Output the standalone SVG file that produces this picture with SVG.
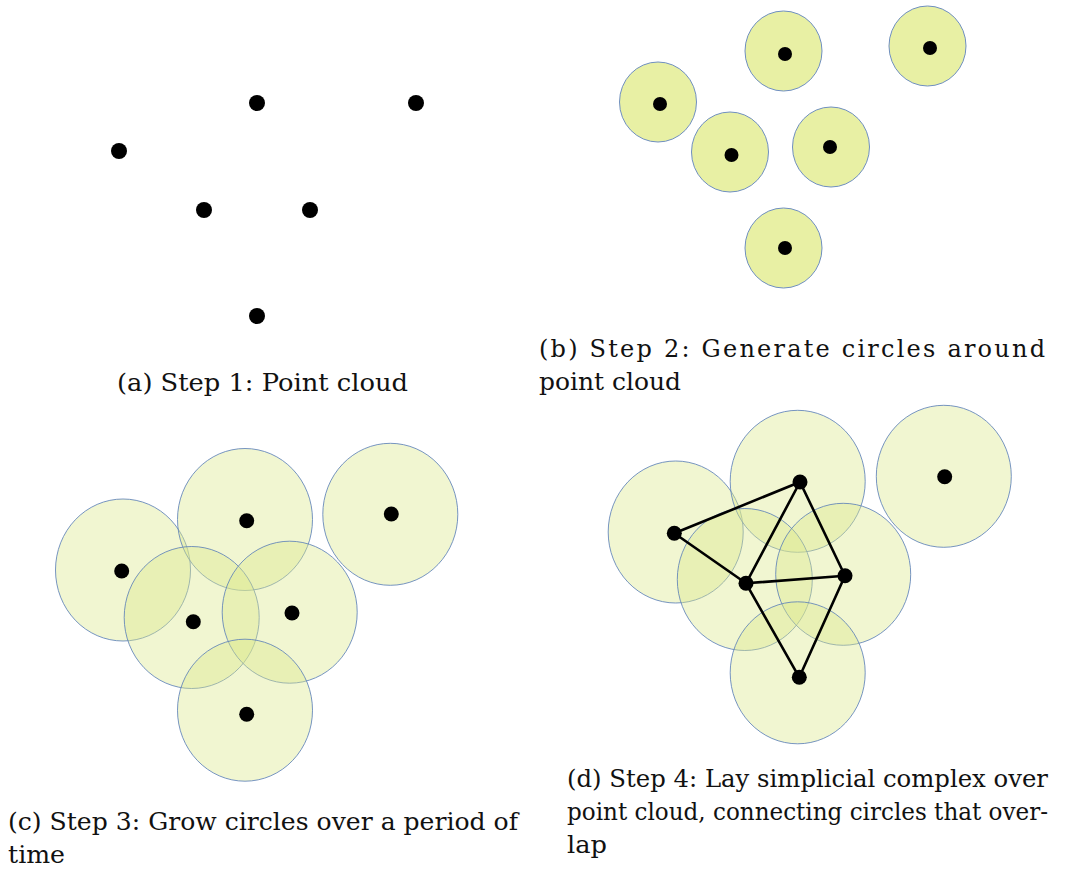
<svg xmlns="http://www.w3.org/2000/svg" width="1081" height="872" viewBox="0 0 1081 872">
<style>
.bg{fill:#ffffff}
.dot{fill:#000000}
.cb{fill:#e8f0a4;stroke:#6f8fc0;stroke-width:1}
.cc{fill:#dce98c;fill-opacity:0.4;stroke:#5f82b8;stroke-opacity:0.85;stroke-width:1}
.edge{stroke:#000000;stroke-width:2.6;fill:none;stroke-linecap:round}
.cap{font-family:"DejaVu Serif","Liberation Serif",serif;font-size:24px;fill:#111111}
</style>
<rect class="bg" x="0" y="0" width="1081" height="872"/>

<!-- Panel (a) -->
<g id="panel-a">
  <g id="a-p1"><circle class="dot" cx="257" cy="103" r="8"/></g>
  <g id="a-p2"><circle class="dot" cx="416" cy="103" r="8"/></g>
  <g id="a-p3"><circle class="dot" cx="119" cy="151" r="8"/></g>
  <g id="a-p4"><circle class="dot" cx="204" cy="210" r="8"/></g>
  <g id="a-p5"><circle class="dot" cx="310" cy="210" r="8"/></g>
  <g id="a-p6"><circle class="dot" cx="257" cy="316" r="8"/></g>
  <text class="cap" x="117" y="391" textLength="291" lengthAdjust="spacingAndGlyphs">(a) Step 1: Point cloud</text>
</g>

<!-- Panel (b) -->
<g id="panel-b">
  <g id="b-n1"><ellipse class="cb" cx="658" cy="102" rx="38.5" ry="40"/><circle class="dot" cx="660" cy="104" r="7"/></g>
  <g id="b-n2"><ellipse class="cb" cx="783.5" cy="51" rx="38.5" ry="40"/><circle class="dot" cx="785" cy="54" r="7"/></g>
  <g id="b-n3"><ellipse class="cb" cx="927.5" cy="46" rx="38.5" ry="40"/><circle class="dot" cx="930" cy="48" r="7"/></g>
  <g id="b-n4"><ellipse class="cb" cx="730" cy="152" rx="38.5" ry="40"/><circle class="dot" cx="731.5" cy="155" r="7"/></g>
  <g id="b-n5"><ellipse class="cb" cx="831" cy="147" rx="38.5" ry="40"/><circle class="dot" cx="830" cy="147" r="7"/></g>
  <g id="b-n6"><ellipse class="cb" cx="783.5" cy="248" rx="38.5" ry="40"/><circle class="dot" cx="785" cy="248" r="7"/></g>
  <text class="cap" x="539" y="357" textLength="506" lengthAdjust="spacing">(b) Step 2: Generate circles around</text>
  <text class="cap" x="539" y="390" textLength="142" lengthAdjust="spacingAndGlyphs">point cloud</text>
</g>

<!-- Panel (c) -->
<g id="panel-c">
  <g id="c-n1"><ellipse class="cc" cx="123" cy="570" rx="67.5" ry="71"/></g>
  <g id="c-n2"><ellipse class="cc" cx="245" cy="519.5" rx="67.5" ry="71"/></g>
  <g id="c-n3"><ellipse class="cc" cx="390.3" cy="514.3" rx="67.5" ry="71"/></g>
  <g id="c-n4"><ellipse class="cc" cx="191.7" cy="617.5" rx="67.5" ry="71"/></g>
  <g id="c-n5"><ellipse class="cc" cx="289.7" cy="612.2" rx="67.5" ry="71"/></g>
  <g id="c-n6"><ellipse class="cc" cx="245" cy="710.2" rx="67.5" ry="71"/></g>
  <g id="c-dots">
    <circle class="dot" cx="121.7" cy="571" r="7.5"/>
    <circle class="dot" cx="246.7" cy="520.7" r="7.5"/>
    <circle class="dot" cx="391.3" cy="514" r="7.5"/>
    <circle class="dot" cx="193.3" cy="621.7" r="7.5"/>
    <circle class="dot" cx="292" cy="613" r="7.5"/>
    <circle class="dot" cx="246.7" cy="714.3" r="7.5"/>
  </g>
  <text class="cap" x="8" y="830" textLength="510" lengthAdjust="spacingAndGlyphs">(c) Step 3: Grow circles over a period of</text>
  <text class="cap" x="8" y="863" textLength="57" lengthAdjust="spacingAndGlyphs">time</text>
</g>

<!-- Panel (d) -->
<g id="panel-d">
  <g id="d-n1"><ellipse class="cc" cx="675.7" cy="532" rx="67.5" ry="71"/></g>
  <g id="d-n2"><ellipse class="cc" cx="797.7" cy="481.3" rx="67.5" ry="71"/></g>
  <g id="d-n3"><ellipse class="cc" cx="943.8" cy="476.3" rx="67.5" ry="71"/></g>
  <g id="d-n4"><ellipse class="cc" cx="744.8" cy="579.5" rx="67.5" ry="71"/></g>
  <g id="d-n5"><ellipse class="cc" cx="843.2" cy="574.3" rx="67.5" ry="71"/></g>
  <g id="d-n6"><ellipse class="cc" cx="797.7" cy="672.8" rx="67.5" ry="71"/></g>
  <g id="connectors">
    <line class="edge" x1="674.3" y1="533.3" x2="800" y2="482"/>
    <line class="edge" x1="674.3" y1="533.3" x2="746" y2="583.3"/>
    <line class="edge" x1="800" y1="482" x2="746" y2="583.3"/>
    <line class="edge" x1="800" y1="482" x2="845" y2="575.7"/>
    <line class="edge" x1="746" y1="583.3" x2="845" y2="575.7"/>
    <line class="edge" x1="746" y1="583.3" x2="799.3" y2="677.3"/>
    <line class="edge" x1="845" y1="575.7" x2="799.3" y2="677.3"/>
  </g>
  <g id="d-dots">
    <circle class="dot" cx="674.3" cy="533.3" r="7.5"/>
    <circle class="dot" cx="800" cy="482" r="7.5"/>
    <circle class="dot" cx="944.7" cy="476.7" r="7.5"/>
    <circle class="dot" cx="746" cy="583.3" r="7.5"/>
    <circle class="dot" cx="845" cy="575.7" r="7.5"/>
    <circle class="dot" cx="799.3" cy="677.3" r="7.5"/>
  </g>
  <text class="cap" x="567" y="787" textLength="481" lengthAdjust="spacingAndGlyphs">(d) Step 4: Lay simplicial complex over</text>
  <text class="cap" x="567" y="820" textLength="481" lengthAdjust="spacingAndGlyphs">point cloud, connecting circles that over-</text>
  <text class="cap" x="567" y="853" textLength="40" lengthAdjust="spacingAndGlyphs">lap</text>
</g>
</svg>
